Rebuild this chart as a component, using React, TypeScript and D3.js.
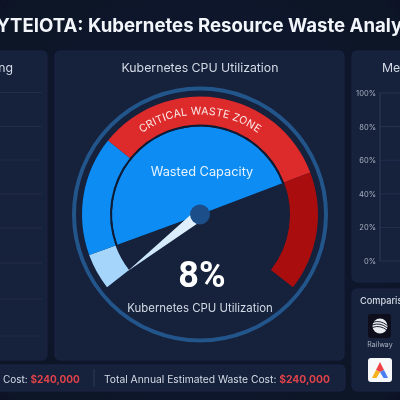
import React from "react";
import * as d3 from "d3";

const gaugeSegments = [
  { name: "utilized", from: 0, to: 7, color: "#a6d5fb" },
  { name: "wasted", from: 7, to: 30, color: "#0b8cf4" },
  { name: "critical", from: 30, to: 77, color: "#dd2a2b" },
  { name: "overflow", from: 77, to: 100, color: "#a91010" },
];
const wedgeRange = [7, 77];
const needleValue = 0;
const gaugeValue = "8%";
const leftRows = [92.5, 126.5, 160, 194, 228, 263, 299, 336];
const memoryTicks = [0, 20, 40, 60, 80, 100];
const cost = "$240,000";

const cx = 200;
const cy = 214.5;
const angle = d3.scaleLinear().domain([0, 100]).range([-128, 128]);
const rad = (v: number) => (angle(v) * Math.PI) / 180;
const yMem = d3.scaleLinear().domain([0, 100]).range([261, 93]);
const FONT = "Inter, 'Noto Sans', sans-serif";

export default function App() {
  const band = d3.arc<any>().innerRadius(90).outerRadius(118);
  const inner = d3.arc<any>().innerRadius(0).outerRadius(88);
  const ring = d3.arc<any>().innerRadius(88).outerRadius(90);
  const a = rad(needleValue);
  const tipR = 92;
  const tip = [Math.sin(a) * tipR, -Math.cos(a) * tipR];
  const px = Math.cos(a) * 6;
  const py = Math.sin(a) * 6;
  const needle = d3.line()([[tip[0], tip[1]], [px, py], [-px, -py]]) + "Z";
  const labelR = 100;
  const labelArc = `M ${cx - labelR * Math.sin(1.0)} ${cy - labelR * Math.cos(1.0)} A ${labelR} ${labelR} 0 0 1 ${cx + labelR * Math.sin(1.0)} ${cy - labelR * Math.cos(1.0)}`;
  return (
    <svg width={400} height={400} viewBox="0 0 400 400" style={{ position: "fixed", left: 0, top: 0 }} fontFamily={FONT}>
      <defs>
        <radialGradient id="bg" cx="50%" cy="50%" r="75%">
          <stop offset="0%" stopColor="#0f1a33" />
          <stop offset="100%" stopColor="#091124" />
        </radialGradient>
        <linearGradient id="needleFill" x1="0" y1="1" x2="1" y2="0">
          <stop offset="0%" stopColor="#c4e2fb" />
          <stop offset="100%" stopColor="#e8f3fd" />
        </linearGradient>
        <filter id="soft" x="0" y="0" width="100%" height="100%">
          <feGaussianBlur stdDeviation="0.35" />
        </filter>
      </defs>
      <g filter="url(#soft)">
        <rect width={400} height={400} fill="url(#bg)" />
        <text x={-16} y={32} fontSize={18.6} fontWeight={700} fill="#f2f5fa">BYTEIOTA: Kubernetes Resource Waste Analysis</text>

        {/* panels */}
        <rect x={-20} y={51} width={67} height={309} rx={5} fill="#14203a" stroke="#1b2947" />
        <rect x={55} y={51} width={289} height={309} rx={5} fill="#14203a" stroke="#1b2947" />
        <rect x={352} y={51} width={70} height={231} rx={5} fill="#14203a" stroke="#1b2947" />
        <rect x={352} y={289} width={70} height={102} rx={5} fill="#14203a" stroke="#1b2947" />
        <rect x={-20} y={365} width={365} height={26} rx={5} fill="#14203a" stroke="#1b2947" />

        {/* left panel */}
        <text x={13} y={72} textAnchor="end" fontSize={12.3} fill="#d5dbe6">Ranking</text>
        {leftRows.map((y) => (
          <line key={y} x1={0} x2={42} y1={y} y2={y} stroke="#222e4a" strokeWidth={1} />
        ))}

        {/* gauge */}
        <text x={200} y={72} textAnchor="middle" fontSize={12.3} fill="#d5dbe6">Kubernetes CPU Utilization</text>
        <g transform={`translate(${cx},${cy})`}>
          <circle r={126} fill="none" stroke="#24548a" strokeWidth={4} />
          <path d={inner({ startAngle: rad(wedgeRange[0]), endAngle: rad(wedgeRange[1]) })!} fill="#0b8cf4" />
          <path d={ring({ startAngle: rad(gaugeSegments[0].to), endAngle: rad(gaugeSegments[2].to) })!} fill="#0d1a33" />
          {gaugeSegments.map((s) => (
            <path key={s.name} d={band({ startAngle: rad(s.from), endAngle: rad(s.to) })!} fill={s.color} />
          ))}
          <path d={needle} fill="url(#needleFill)" />
          <circle r={10} fill="#1c5089" />
        </g>
        <path id="lbl" d={labelArc} fill="none" />
        <text fontSize={10.6} fill="#fbe9e9" letterSpacing={0.2}>
          <textPath href="#lbl" startOffset="50%" textAnchor="middle">CRITICAL WASTE ZONE</textPath>
        </text>
        <text x={202} y={176} textAnchor="middle" fontSize={12.8} fill="#e6f3ff">Wasted Capacity</text>
        <text x={202} y={287} textAnchor="middle" fontSize={36} fontWeight={700} fontFamily="Roboto, sans-serif" fill="#ffffff">{gaugeValue}</text>
        <text x={200} y={312} textAnchor="middle" fontSize={11.4} fill="#d5dbe6">Kubernetes CPU Utilization</text>

        {/* memory panel */}
        <text x={382} y={72} fontSize={12.3} fill="#d5dbe6">Memory Utilization</text>
        {memoryTicks.map((t) => (
          <g key={t}>
            <line x1={380} x2={400} y1={yMem(t)} y2={yMem(t)} stroke="#25324f" />
            <text x={376} y={yMem(t) + 3} textAnchor="end" fontSize={7.5} fill="#aab3c4">{t}%</text>
          </g>
        ))}
        <line x1={380} x2={380} y1={yMem(100)} y2={yMem(0)} stroke="#2c3a58" />

        {/* comparison panel */}
        <text x={360} y={304} fontSize={9.2} fontWeight={500} fill="#d5dbe6">Comparison</text>
        <rect x={368} y={314} width={23} height={24} rx={3} fill="#0b101d" />
        <circle cx={380} cy={326} r={7.5} fill="#e9ecf1" />
        {[-2.5, 0, 2.5].map((d) => (
          <path key={d} d={`M372.5 ${325 + d} Q380 ${322 + d} 387.5 ${328 + d}`} fill="none" stroke="#0b101d" strokeWidth={0.9} />
        ))}
        <text x={380} y={347} textAnchor="middle" fontSize={7} fill="#aab3c4">Railway</text>
        <rect x={368} y={358} width={24} height={24} rx={3} fill="#f7f8fa" />
        <path d="M380 362 L384 370 L380 372 L376 370 Z" fill="#ee4045" />
        <path d="M376 370 L380 372 L376.5 378 L372 378 Z" fill="#f5b21f" />
        <path d="M384 370 L388 378 L383.5 378 L380 372 Z" fill="#4a7df0" />

        {/* bottom bar */}
        <text x={3} y={383} fontSize={10} fill="#d5dbe6">Cost: <tspan fontWeight={700} fill="#e0434a">{cost}</tspan></text>
        <line x1={94} x2={94} y1={369} y2={387} stroke="#2c3a58" />
        <text x={104} y={383} fontSize={10.3} fill="#d5dbe6">Total Annual Estimated Waste Cost: <tspan fontWeight={700} fill="#e0434a">{cost}</tspan></text>
      </g>
    </svg>
  );
}
